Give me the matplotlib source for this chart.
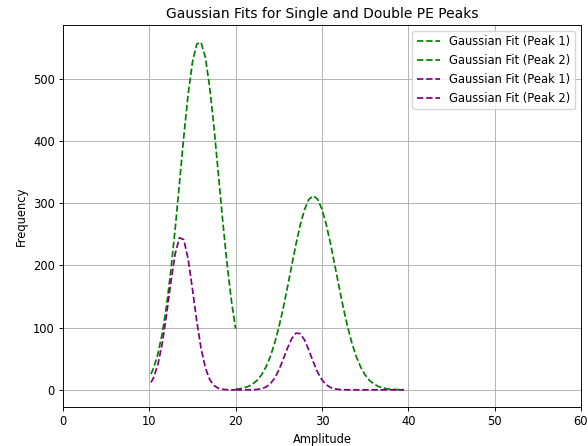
import matplotlib
matplotlib.use('Agg')
from matplotlib import pyplot as plt

# Single PE spectrum fit (green) and double PE spectrum fit (purple),
# values
x_peak1 = [10.2, 10.5, 11.0, 11.5, 12.0, 12.5, 13.0, 13.5, 14.0, 14.5, 15.0,
           15.5, 16.0, 16.5, 17.0, 17.5, 18.0, 18.5, 19.0, 19.5, 20.0]
x_peak2 = [20.0, 20.5, 21.0, 21.5, 22.0, 22.5, 23.0, 23.5, 24.0, 24.5,
           25.0, 25.5, 26.0, 26.5, 27.0, 27.5, 28.0, 28.5, 29.0, 29.5,
           30.0, 30.5, 31.0, 31.5, 32.0, 32.5, 33.0, 33.5, 34.0, 34.5,
           35.0, 35.5, 36.0, 36.5, 37.0, 37.5, 38.0, 38.5, 39.0, 39.5]

green_peak1 = [25.3, 35.0, 57.6, 90.4, 134.8, 191.4, 258.6, 332.7, 407.4, 474.8, 526.6,
               556.0, 558.8, 534.5, 486.6, 421.7, 347.8, 273.1, 204.0, 145.1, 98.3]
green_peak2 = [1.0, 1.8, 3.3, 5.7, 9.5, 15.4, 24.0, 36.2, 52.6, 73.8,
               99.9, 130.4, 164.4, 199.9, 234.7, 265.8, 290.6, 306.5, 312.0, 306.5,
               290.6, 265.8, 234.7, 199.9, 164.4, 130.4, 99.9, 73.8, 52.6, 36.2,
               24.0, 15.4, 9.5, 5.7, 3.3, 1.8, 1.0, 0.5, 0.3, 0.1]

purple_peak1 = [11.8, 19.5, 40.5, 74.4, 120.6, 172.8, 218.7, 244.6, 241.5, 210.8, 162.4,
                110.6, 66.5, 35.4, 16.6, 6.9, 2.5, 0.8, 0.2, 0.0, 0.0]
purple_peak2 = [0.0, 0.0, 0.0, 0.1, 0.2, 0.7, 1.8, 4.4, 9.5, 18.2,
                31.4, 48.4, 66.8, 82.5, 91.2, 90.2, 79.8, 63.2, 44.8, 28.4,
                16.1, 8.2, 3.7, 1.5, 0.6, 0.2, 0.1, 0.0, 0.0, 0.0,
                0.0, 0.0, 0.0, 0.0, 0.0, 0.0, 0.0, 0.0, 0.0, 0.0]

# the reference looks like a default figure shrunk to ~83 %
s = 0.83
plt.rcParams.update({
    'font.size': 10 * s,
    'axes.titlesize': 12 * s,
    'axes.labelsize': 10 * s,
    'legend.fontsize': 10 * s,
    'lines.linewidth': 1.5 * s,
    'axes.linewidth': 0.8 * s,
    'grid.linewidth': 0.8 * s,
    'xtick.major.size': 3.5 * s,
    'ytick.major.size': 3.5 * s,
    'xtick.major.width': 0.8 * s,
    'ytick.major.width': 0.8 * s,
    'xtick.major.pad': 3.5 * s,
    'ytick.major.pad': 3.5 * s,
    'axes.labelpad': 4.0 * s,
    'axes.titlepad': 6.0 * s,
})

fig = plt.figure(figsize=(5.88, 4.46), dpi=100)
ax = fig.add_axes([0.107, 0.087, 0.881, 0.857])

ax.plot(x_peak1, green_peak1, '--', color='green', label='Gaussian Fit (Peak 1)')
ax.plot(x_peak2, green_peak2, '--', color='green', label='Gaussian Fit (Peak 2)')
ax.plot(x_peak1, purple_peak1, '--', color='purple', label='Gaussian Fit (Peak 1)')
ax.plot(x_peak2, purple_peak2, '--', color='purple', label='Gaussian Fit (Peak 2)')

ax.set_xlim(0, 60)
ax.set_title('Gaussian Fits for Single and Double PE Peaks')
ax.set_xlabel('Amplitude')
ax.set_ylabel('Frequency')
ax.grid(True)
ax.legend(loc='upper right')

fig.savefig('out.png', dpi=100)
